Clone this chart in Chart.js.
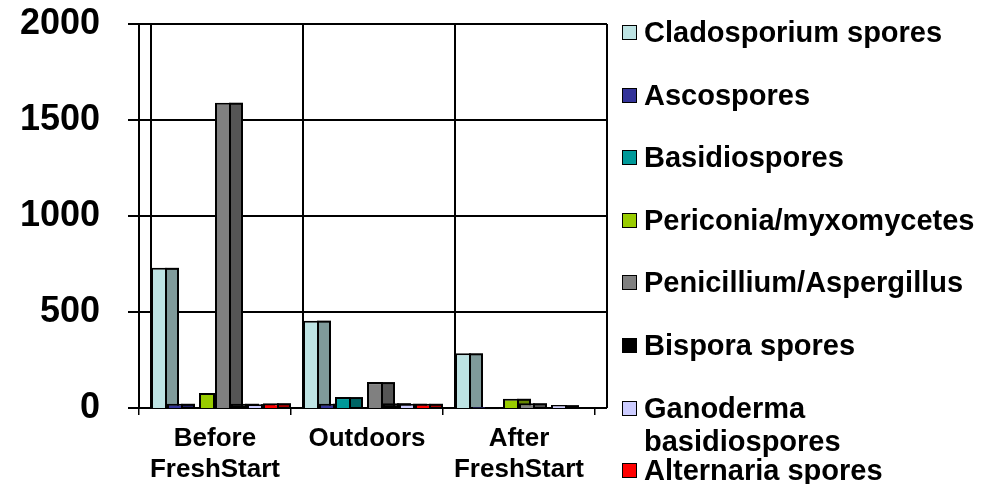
<!DOCTYPE html>
<html>
<head>
<meta charset="utf-8">
<script src="https://cdn.jsdelivr.net/npm/chart.js@4/dist/chart.umd.min.js"></script>
<style>
  html, body { margin: 0; padding: 0; background: #fff; }
  #wrap { position: relative; width: 989px; height: 484px; }
  #legend { position: absolute; left: 622px; top: 0; width: 367px;
            font: bold 29px "Liberation Sans", Arial, sans-serif; color: #000; }
  .item { position: absolute; left: 0; display: flex; align-items: flex-start; line-height: 33px; }
  .box { width: 13px; height: 13px; border: 1.5px solid #000; margin: 9px 7px 0 0; flex: none; }
  .label { width: 344px; }
</style>
</head>
<body>
<div id="wrap">
  <canvas id="chart" width="989" height="484"></canvas>
  <div id="legend"></div>
</div>
<script>
// categories
const categories = [['Before', 'FreshStart'], 'Outdoors', ['After', 'FreshStart']];
const yTicks = [0, 500, 1000, 1500, 2000];

// series values: Before, Outdoors, After
const cladosporium = [730, 455, 285];
const ascospores   = [22, 22, 5];
const basidiospores = [0, 57, 0];
const periconia    = [78, 0, 48];
const penicillium  = [1590, 135, 25];
const bispora      = [22, 25, 0];
const ganoderma    = [20, 22, 15];
const alternaria   = [25, 22, 0];

const seriesNames = [
  'Cladosporium spores', 'Ascospores', 'Basidiospores', 'Periconia/myxomycetes',
  'Penicillium/Aspergillus', 'Bispora spores', 'Ganoderma basidiospores', 'Alternaria spores'
];
const seriesData = [cladosporium, ascospores, basidiospores, periconia,
                    penicillium, bispora, ganoderma, alternaria];
const frontColors = ['#bde3e3', '#333399', '#009999', '#99cc00', '#808080', '#000000', '#ccccff', '#ff0000'];
const sideColors  = ['#7f9a9a', '#222266', '#006666', '#668800', '#555555', '#000000', '#8888aa', '#aa0000'];

const DEPTH = 12;

// back wall, left wall, gridlines and the side faces of the bars
const wallPlugin = {
  id: 'wall',
  beforeDatasetsDraw(chart) {
    const { ctx, chartArea: a, scales: { x, y } } = chart;
    const right = a.right + DEPTH;
    ctx.save();
    ctx.strokeStyle = '#000';
    ctx.lineWidth = 2;
    ctx.beginPath();
    yTicks.forEach((v) => {
      const py = Math.round(y.getPixelForValue(v));
      ctx.moveTo(a.left - 11, py);
      ctx.lineTo(right, py);
    });
    const n = categories.length;
    const step = (a.right - a.left) / n;
    [a.left, a.left + DEPTH].forEach((px) => {
      ctx.moveTo(px, a.top); ctx.lineTo(px, a.bottom);
    });
    for (let i = 1; i <= n; i++) {
      const px = a.left + step * i + DEPTH;
      ctx.moveTo(px, a.top); ctx.lineTo(px, a.bottom);
    }
    ctx.stroke();

    // side faces, drawn before the fronts so the next bar covers them
    ctx.lineWidth = 2;
    chart.data.datasets.forEach((ds, i) => {
      chart.getDatasetMeta(i).data.forEach((bar, j) => {
        if (!ds.data[j]) return;
        const x0 = bar.x + bar.width / 2 - 1;
        const top = bar.y + 1;
        const h = bar.base - bar.y - 1;
        ctx.fillStyle = sideColors[i];
        ctx.fillRect(x0, top, DEPTH, h);
        ctx.strokeRect(x0, top, DEPTH, h);
      });
    });
    ctx.restore();
  }
};

new Chart(document.getElementById('chart'), {
  type: 'bar',
  data: {
    labels: categories,
    datasets: seriesData.map((data, i) => ({
      label: seriesNames[i],
      data,
      backgroundColor: frontColors[i],
      borderColor: '#000',
      borderWidth: 2,
      categoryPercentage: 0.842,
      barPercentage: 1.0,
    })),
  },
  options: {
    responsive: false,
    animation: false,
    layout: { padding: { top: 24, right: 394, left: 0, bottom: 0 } },
    plugins: { legend: { display: false }, tooltip: { enabled: false } },
    scales: {
      x: {
        offset: true,
        border: { display: false },
        grid: { display: true, offset: true, drawOnChartArea: false, tickLength: 7, color: '#000', lineWidth: 1.5 },
        ticks: {
          color: '#000', padding: 8, maxRotation: 0, autoSkip: false,
          font: { family: '"Liberation Sans", Arial', size: 26, weight: 'bold', lineHeight: 1.2 },
        },
        afterFit(s) { s.height = 76; s.paddingLeft = 0; s.paddingRight = 0; },
      },
      y: {
        min: 0, max: 2000,
        border: { display: false },
        grid: { display: false, drawTicks: false },
        ticks: {
          stepSize: 500, color: '#000', padding: 39,
          callback: (v) => String(v),
          font: { family: '"Liberation Sans", Arial', size: 36, weight: 'bold' },
        },
        afterFit(s) { s.width = 139; s.paddingTop = 0; s.paddingBottom = 0; },
      },
    },
  },
  plugins: [wallPlugin],
});

// legend built from the same series lists
const legend = document.getElementById('legend');
seriesNames.forEach((name, i) => {
  const item = document.createElement('div');
  item.className = 'item';
  item.style.top = Math.round(16 + i * 62.6) + 'px';
  item.innerHTML = '<span class="box"></span><span class="label"></span>';
  item.querySelector('.box').style.background = frontColors[i];
  item.querySelector('.label').textContent = name;
  legend.appendChild(item);
});
</script>
</body>
</html>
